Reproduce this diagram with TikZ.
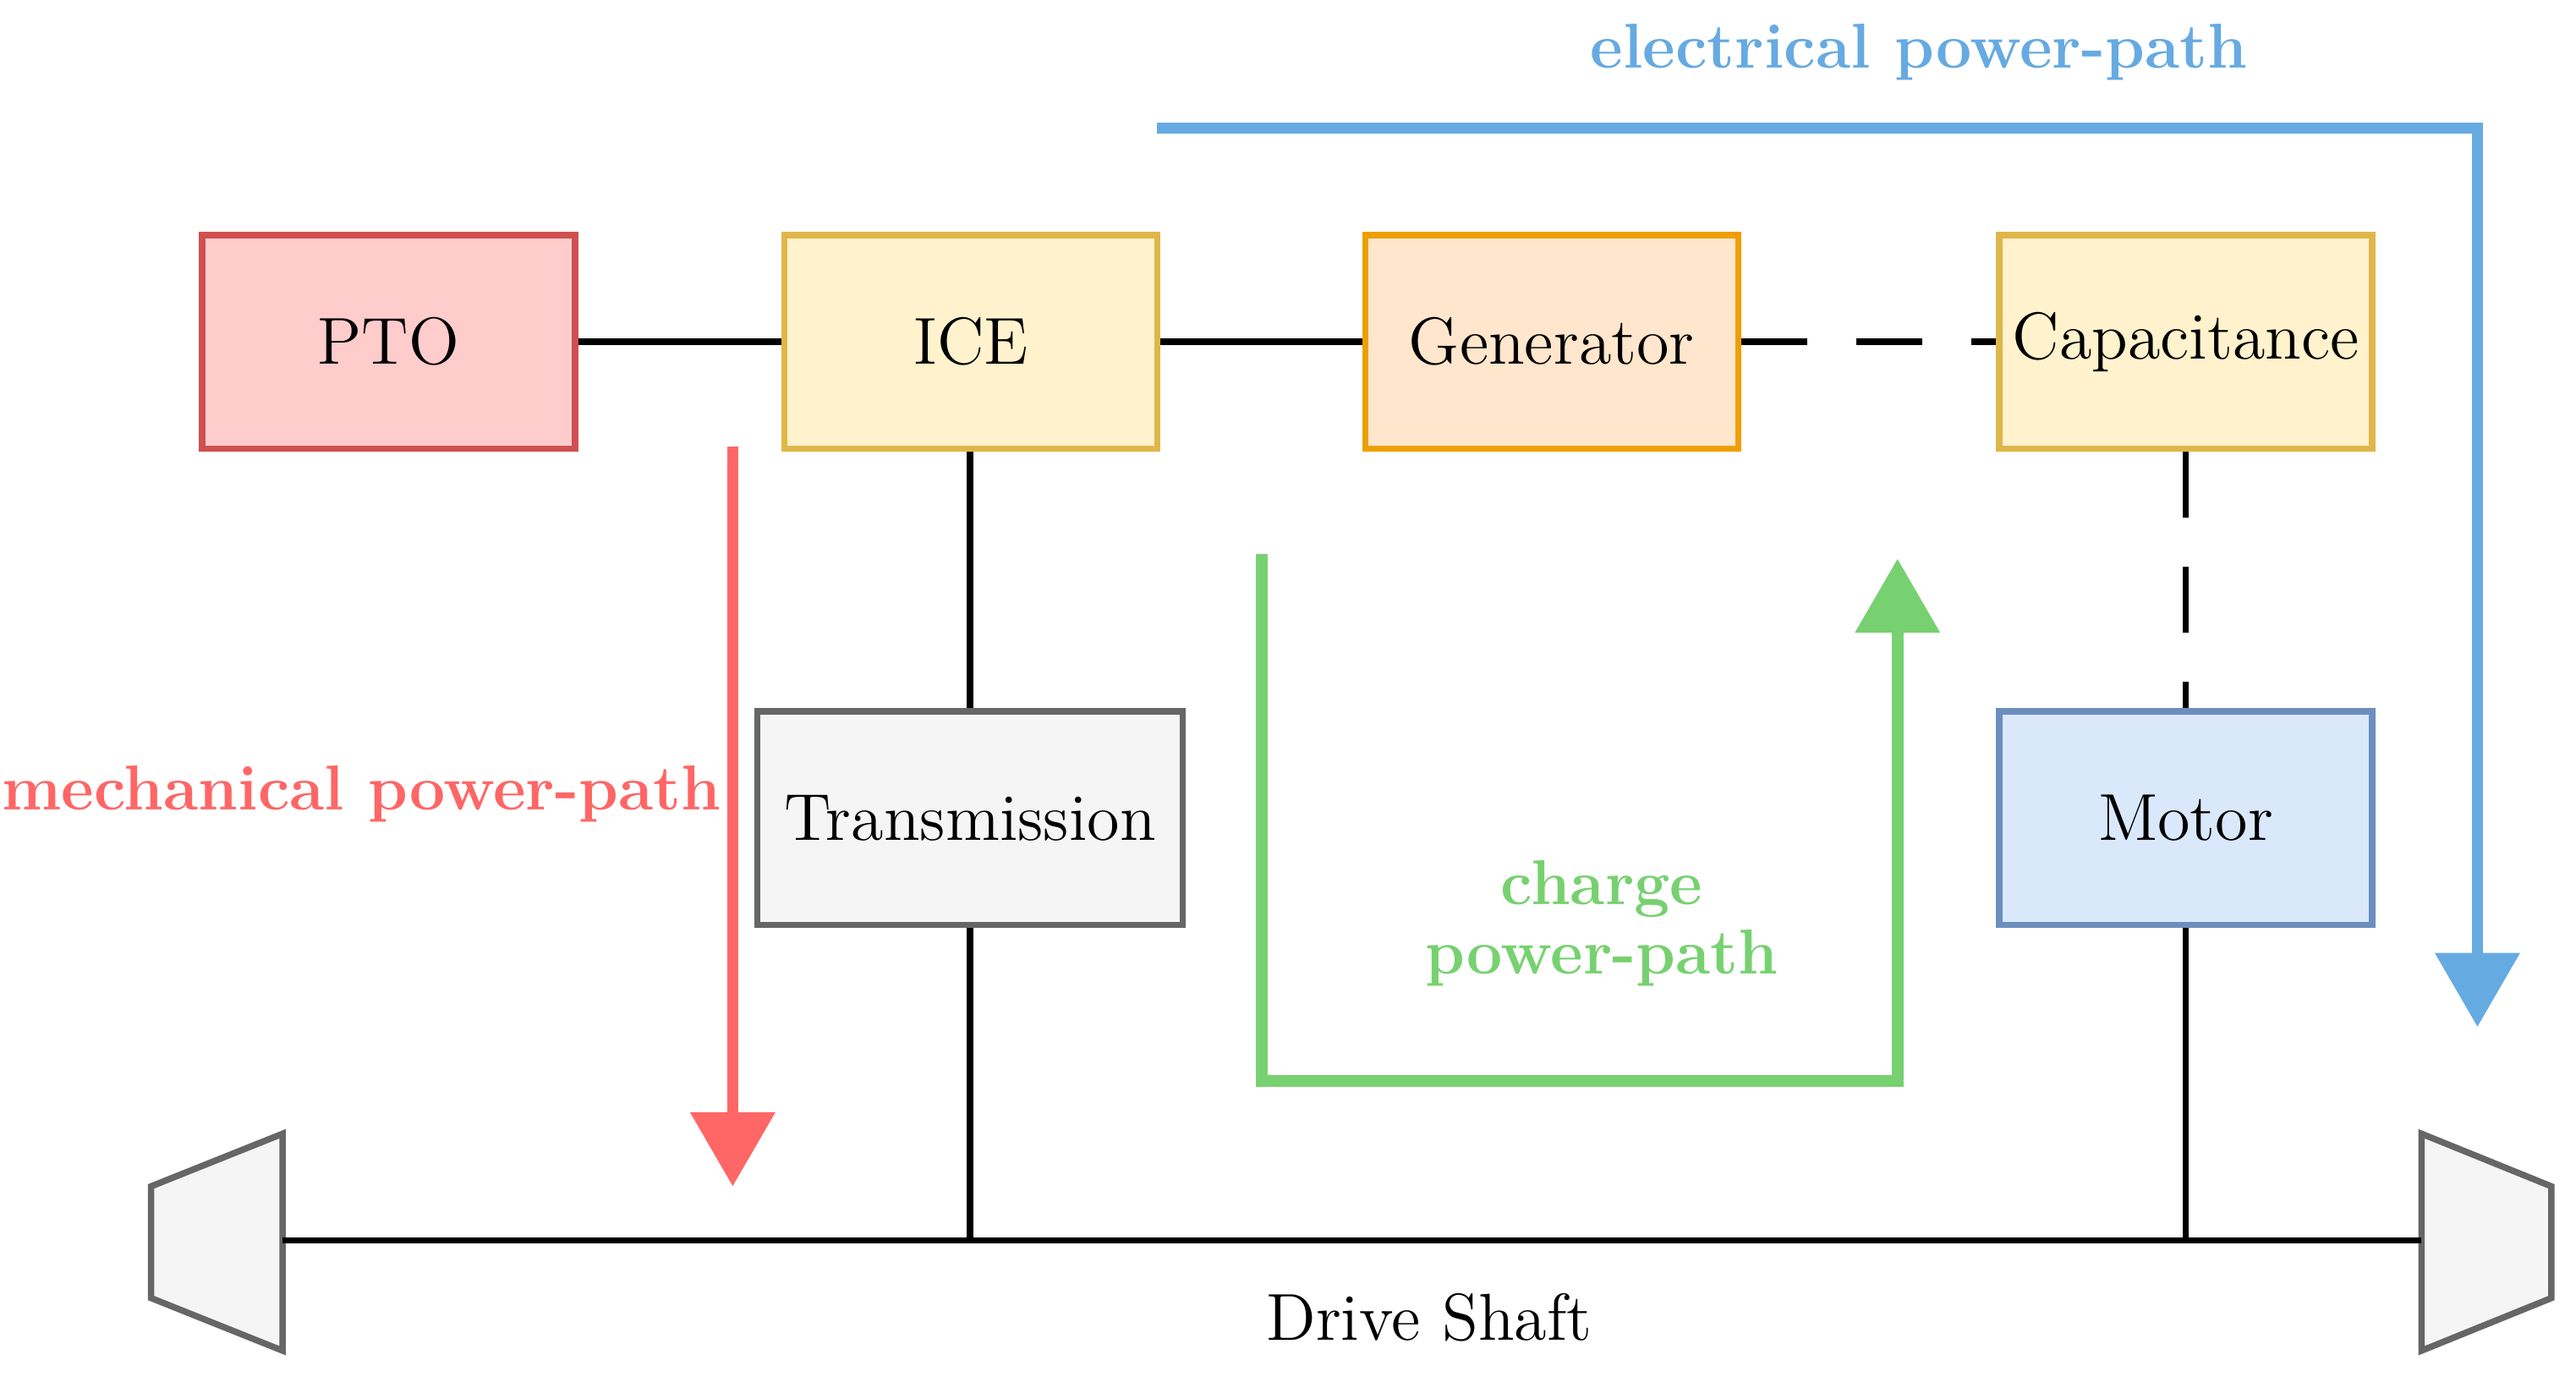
\documentclass[tikz,border=0pt]{standalone}
\usetikzlibrary{arrows.meta}
\begin{document}
\begin{tikzpicture}[x=0.1mm,y=-0.1mm,
  box/.style={draw,line width=1.1pt,minimum width=22.7mm,minimum height=13mm,inner sep=0pt,font=\fontsize{11.5}{14}\selectfont},
  conn/.style={line width=1.1pt},
  path/.style={line width=2pt,-{Triangle[length=4.5mm,width=5mm]}},
  lab/.style={font=\bfseries\fontsize{11}{13}\selectfont,align=center}]
\definecolor{pr}{HTML}{FFCCCC}\definecolor{prd}{HTML}{D05050}
\definecolor{ye}{HTML}{FFF2CC}\definecolor{yed}{HTML}{E0B64A}
\definecolor{or}{HTML}{FFE6CC}\definecolor{ord}{HTML}{EE9F00}
\definecolor{gr}{HTML}{F5F5F5}\definecolor{grd}{HTML}{666666}
\definecolor{bl}{HTML}{DAE8FC}\definecolor{bld}{HTML}{6C8EBF}
\definecolor{redp}{HTML}{FF6666}\definecolor{grnp}{HTML}{77D170}\definecolor{blup}{HTML}{66AAE2}
\useasboundingbox (0,0) rectangle (1568,838);
\node[box,fill=pr,draw=prd] (pto) at (236.5,208) {PTO};
\node[box,fill=ye,draw=yed] (ice) at (591,208) {ICE};
\node[box,fill=or,draw=ord] (gen) at (944.5,208) {Generator};
\node[box,fill=ye,draw=yed] (cap) at (1330.5,208) {Capacitance};
\node[box,fill=gr,draw=grd,minimum width=25.9mm] (tr) at (590.5,498) {Transmission};
\node[box,fill=bl,draw=bld] (mot) at (1330.5,498) {Motor};
\draw[fill=gr,draw=grd,line width=1.1pt] (172,690) -- (172,822) -- (92,790) -- (92,722) -- cycle;
\draw[fill=gr,draw=grd,line width=1.1pt] (1474,690) -- (1474,822) -- (1553,790) -- (1553,722) -- cycle;
\coordinate (sl) at (172,755); \coordinate (sr) at (1474,755);
\coordinate (t1) at (590.5,755); \coordinate (m1) at (1330.5,755);
\draw[conn] (sl) -- (sr);
\draw[conn] (pto) -- (ice);
\draw[conn] (ice) -- (gen);
\draw[conn,dashed,dash pattern=on 4mm off 3mm] (gen) -- (cap);
\draw[conn,dashed,dash pattern=on 4mm off 3mm] (cap) -- (mot);
\draw[conn] (ice.south -| tr.north) -- (tr.north);
\draw[conn] (tr) -- (t1);
\draw[conn] (mot) -- (m1);
\node[font=\fontsize{11.5}{14}\selectfont] (ds) at (870,802) {Drive Shaft};
\coordinate (r0) at (446,272); \coordinate (r1) at (446,722);
\draw[path,redp] (r0) -- (r1);
\node[lab,text=redp] (ml) at (220,483) {mechanical power-path};
\coordinate (g0) at (768,337); \coordinate (g1) at (1155,340);
\draw[path,grnp,-{Triangle[length=4.5mm,width=5mm]}] (g0) -- (768,658) -- (1155,658) -- (g1);
\node[lab,text=grnp,inner sep=0pt] (cl) at (975,562) {charge\\[-1pt]power-path};
\coordinate (b0) at (704,78); \coordinate (b1) at (1508,625);
\draw[path,blup] (b0) -- (1508,78) -- (b1);
\node[lab,text=blup] (el) at (1168,32) {electrical power-path};
\end{tikzpicture}
\end{document}
